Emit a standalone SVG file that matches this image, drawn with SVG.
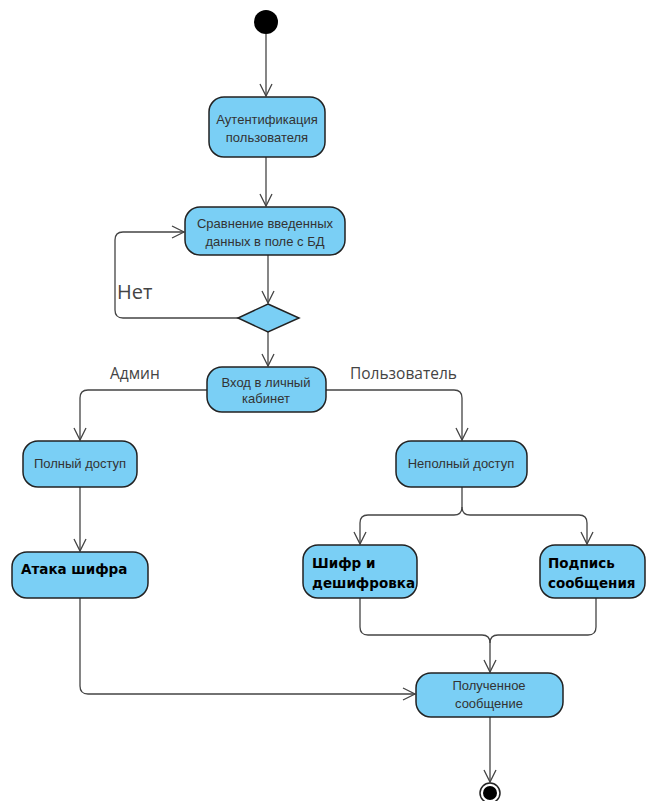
<svg xmlns="http://www.w3.org/2000/svg" width="646" height="801" viewBox="0 0 646 801">
  <style>
    .node { fill: #7ACFF5; stroke: #222; stroke-width: 1.5; }
    .txt { font-family: "Liberation Sans", Arial, sans-serif; font-size: 13px; fill: #333; text-anchor: middle; }
    .bold { font-family: "DejaVu Sans", Verdana, sans-serif; font-size: 13.5px; font-weight: bold; fill: #000; }
    .lbl { font-family: "Open Sans", "Liberation Sans", sans-serif; font-size: 15.5px; fill: #444; }
    .edge { fill: none; stroke: #444; stroke-width: 1.3; }
  </style>
  <defs>
    <marker id="arrow" markerUnits="userSpaceOnUse" markerWidth="16" markerHeight="16" viewBox="-14 -8 16 16" refX="0" refY="0" orient="auto">
      <path d="M-12,-6 L0,0 L-12,6" fill="none" stroke="#444" stroke-width="1.3"/>
    </marker>
  </defs>
  <rect width="646" height="801" fill="#fff"/>

  <g id="connectors">
    <path class="edge" d="M266,34 L266,96" marker-end="url(#arrow)"/>
    <path class="edge" d="M266,157 L266,206" marker-end="url(#arrow)"/>
    <path class="edge" d="M268,255 L268,303" marker-end="url(#arrow)"/>
    <path class="edge" d="M238,318 L123,318 Q115,318 115,310 L115,240 Q115,232 123,232 L184,232" marker-end="url(#arrow)"/>
    <path class="edge" d="M268,332 L268,366" marker-end="url(#arrow)"/>
    <path class="edge" d="M207,390 L88,390 Q80,390 80,398 L80,440" marker-end="url(#arrow)"/>
    <path class="edge" d="M326,390 L454,390 Q462,390 462,398 L462,440" marker-end="url(#arrow)"/>
    <path class="edge" d="M80,487 L80,551" marker-end="url(#arrow)"/>
    <path class="edge" d="M462,487 L462,507 Q462,515 454,515 L368,515 Q360,515 360,523 L360,544" marker-end="url(#arrow)"/>
    <path class="edge" d="M462,507 Q462,515 470,515 L579,515 Q587,515 587,523 L587,544" marker-end="url(#arrow)"/>
    <path class="edge" d="M80,598 L80,686 Q80,694 88,694 L415,694" marker-end="url(#arrow)"/>
    <path class="edge" d="M360,598 L360,627 Q360,635 368,635 L482,635 Q490,635 490,643 L490,672" marker-end="url(#arrow)"/>
    <path class="edge" d="M596,598 L596,627 Q596,635 588,635 L498,635 Q490,635 490,643"/>
    <path class="edge" d="M490,717 L490,782" marker-end="url(#arrow)"/>
  </g>

  <g id="start">
    <circle cx="266" cy="22" r="12" fill="#000"/>
  </g>

  <g id="auth">
    <rect class="node" x="209" y="97" width="116" height="60" rx="15"/>
    <text class="txt" x="267" y="124">Аутентификация</text>
    <text class="txt" x="267" y="142">пользователя</text>
  </g>

  <g id="compare">
    <rect class="node" x="185" y="207" width="160" height="48" rx="15"/>
    <text class="txt" x="265" y="228">Сравнение введенных</text>
    <text class="txt" x="265" y="246">данных в поле с БД</text>
  </g>

  <g id="decision">
    <polygon class="node" points="268,304 299,318 268,332 238,318"/>
  </g>
  <text class="lbl" x="117" y="299" style="font-size:20px">Нет</text>

  <g id="login">
    <rect class="node" x="207" y="367" width="119" height="45" rx="15"/>
    <text class="txt" x="266" y="387">Вход в личный</text>
    <text class="txt" x="266" y="403">кабинет</text>
  </g>
  <text class="lbl" x="110" y="379">Админ</text>
  <text class="lbl" x="350" y="379">Пользователь</text>

  <g id="full-access">
    <rect class="node" x="23" y="441" width="114" height="46" rx="15"/>
    <text class="txt" x="80" y="468">Полный доступ</text>
  </g>

  <g id="partial-access">
    <rect class="node" x="396" y="441" width="131" height="46" rx="15"/>
    <text class="txt" x="461" y="468">Неполный доступ</text>
  </g>

  <g id="attack">
    <rect class="node" x="12" y="552" width="136" height="46" rx="15"/>
    <text class="bold" x="21" y="574">Атака шифра</text>
  </g>

  <g id="cipher">
    <rect class="node" x="303" y="545" width="114" height="53" rx="15"/>
    <text class="bold" x="312" y="568">Шифр и</text>
    <text class="bold" x="312" y="588">дешифровка</text>
  </g>

  <g id="sign">
    <rect class="node" x="540" y="545" width="105" height="53" rx="15"/>
    <text class="bold" x="548" y="568">Подпись</text>
    <text class="bold" x="548" y="588">сообщения</text>
  </g>

  <g id="received">
    <rect class="node" x="416" y="673" width="147" height="44" rx="15"/>
    <text class="txt" x="489" y="690">Полученное</text>
    <text class="txt" x="489" y="708">сообщение</text>
  </g>

  <g id="end">
    <circle cx="490" cy="793" r="10" fill="#fff" stroke="#222" stroke-width="1.5"/>
    <circle cx="490" cy="793" r="7" fill="#000"/>
  </g>
</svg>
